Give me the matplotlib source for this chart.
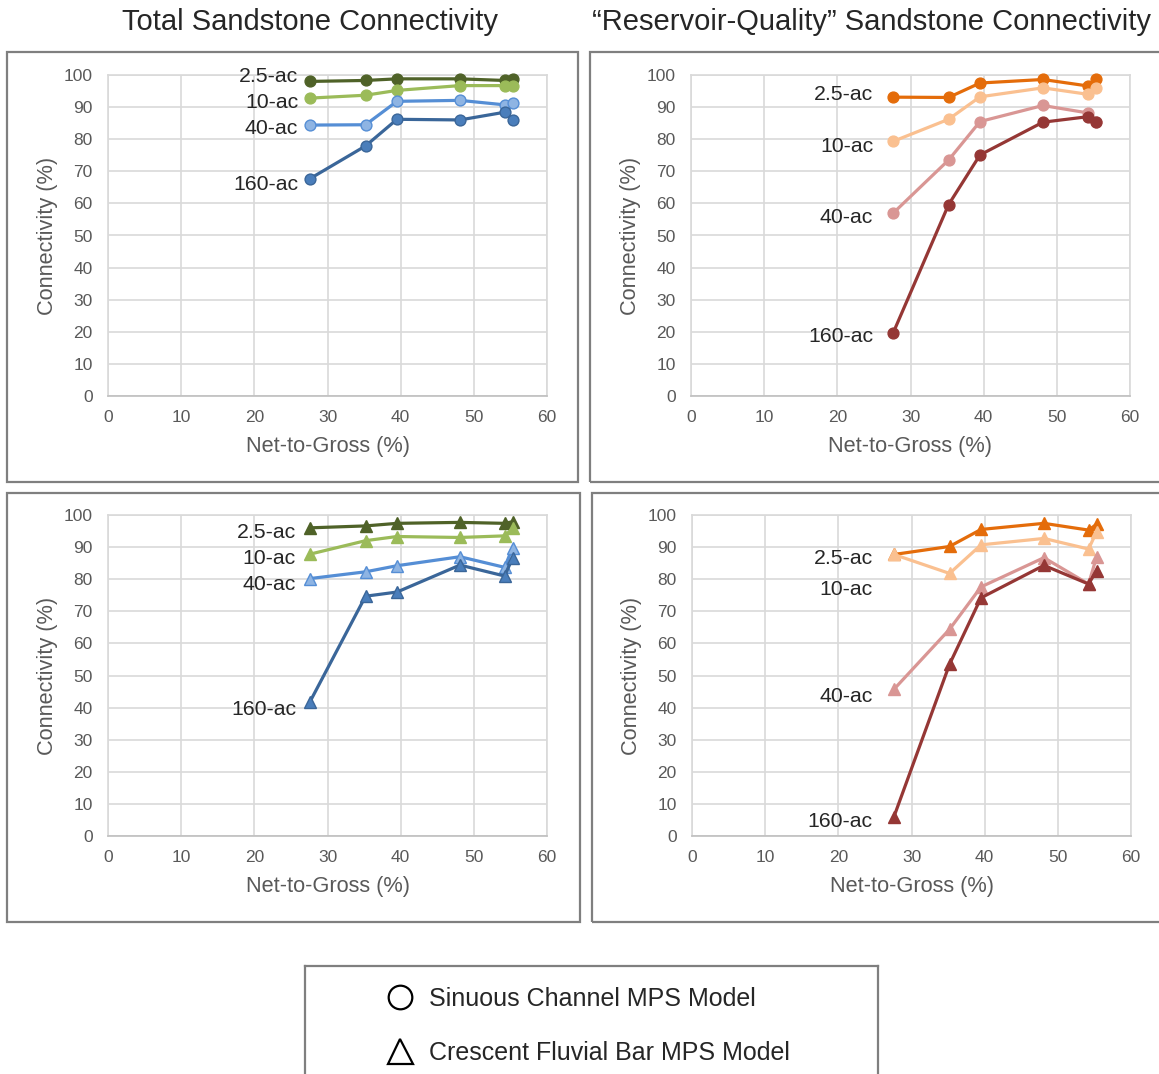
import matplotlib.pyplot as plt
from matplotlib.lines import Line2D
from matplotlib.patches import Rectangle

plt.rcParams["font.family"] = ["Liberation Sans", "DejaVu Sans"]

# ── Data ──────────────────────────────────────────────────────────────────────
ntg = [27.6, 35.2, 39.5, 48.1, 54.2, 55.3]          # Net-to-Gross (%)
spacings = ["2.5-ac", "10-ac", "40-ac", "160-ac"]

# Total sandstone connectivity, sinuous channel model
tot_ch_2p5 = [98.0, 98.3, 98.8, 98.8, 98.3, 98.8]
tot_ch_10  = [92.8, 93.7, 95.2, 96.7, 96.7, 96.6]
tot_ch_40  = [84.4, 84.5, 91.8, 92.1, 90.7, 91.2]
tot_ch_160 = [67.7, 77.9, 86.2, 86.0, 88.4, 86.1]

# Reservoir-quality connectivity, sinuous channel model
rq_ch_2p5 = [93.1, 93.0, 97.5, 98.6, 96.6, 98.6]
rq_ch_10  = [79.3, 86.2, 93.2, 96.0, 94.0, 96.0]
rq_ch_40  = [56.9, 73.5, 85.5, 90.5, 88.2, 85.3]
rq_ch_160 = [19.5, 59.6, 75.1, 85.3, 87.0, 85.5]

# Total sandstone connectivity, crescent fluvial bar model
tot_bar_2p5 = [96.0, 96.6, 97.4, 97.7, 97.4, 97.9]
tot_bar_10  = [87.8, 92.0, 93.3, 93.0, 93.5, 95.8]
tot_bar_40  = [80.2, 82.3, 84.2, 87.0, 83.7, 89.8]
tot_bar_160 = [41.8, 74.7, 76.0, 84.4, 81.0, 86.6]

# Reservoir-quality connectivity, crescent fluvial bar model
rq_bar_2p5 = [87.7, 90.2, 95.5, 97.4, 95.3, 97.1]
rq_bar_10  = [87.7, 81.8, 90.7, 92.7, 89.4, 94.8]
rq_bar_40  = [45.7, 64.4, 77.6, 86.7, 78.5, 87.0]
rq_bar_160 = [6.0, 53.5, 74.2, 84.3, 78.5, 82.7]

# ── Style ─────────────────────────────────────────────────────────────────────
W, H = 1159, 1074
green_blue = [("#4F6228", "#4F6228"), ("#9BBB59", "#9BBB59"),
              ("#558ED5", "#8EB4E3"), ("#3A6699", "#4A7EBB")]
oranges    = [("#E46C0A", "#E46C0A"), ("#FAC090", "#FAC090"),
              ("#D99694", "#D99694"), ("#953735", "#953735")]
GRID = "#D9D9D9"
TICK = "#595959"
BOX  = "#7F7F7F"


def fx(px):
    return px / W


def fy(py):
    return 1 - py / H


fig = plt.figure(figsize=(W / 100, H / 100), dpi=100)

# panel frames
for x0, y0, x1, y1 in [(7, 52, 578, 482), (590, 52, 1170, 482),
                       (7, 493, 580, 922), (592, 493, 1170, 922)]:
    fig.patches.append(Rectangle((fx(x0), fy(y1)), fx(x1 - x0), (y1 - y0) / H,
                                 transform=fig.transFigure, fill=False,
                                 edgecolor=BOX, linewidth=1.6))

panels = [
    # (left px, bottom px, series, colours, marker, label positions)
    (108, 396, [tot_ch_2p5, tot_ch_10, tot_ch_40, tot_ch_160], green_blue, "o",
     [(26.0, 99.4), (26.0, 91.3), (26.0, 83.2), (26.0, 66.0)]),
    (691, 396, [rq_ch_2p5, rq_ch_10, rq_ch_40, rq_ch_160], oranges, "o",
     [(24.9, 93.8), (24.9, 77.6), (24.9, 55.5), (24.9, 18.4)]),
    (108, 836, [tot_bar_2p5, tot_bar_10, tot_bar_40, tot_bar_160], green_blue, "^",
     [(25.7, 94.7), (25.7, 86.6), (25.7, 78.5), (25.7, 39.3)]),
    (692, 836, [rq_bar_2p5, rq_bar_10, rq_bar_40, rq_bar_160], oranges, "^",
     [(24.7, 86.6), (24.7, 76.9), (24.7, 43.6), (24.7, 4.4)]),
]

for left, bottom, series, cols, mk, lab_pos in panels:
    ax = fig.add_axes([fx(left), fy(bottom), 439 / W, 321 / H])
    for vals, (lc, fc), name, (lx, ly) in zip(series, cols, spacings, lab_pos):
        ax.plot(ntg, vals, color=lc, linewidth=2.3, marker=mk,
                markersize=7.8 if mk == "o" else 9,
                markerfacecolor=fc, markeredgecolor=lc, markeredgewidth=1.0,
                clip_on=False, zorder=3)
        ax.text(lx, ly, name, ha="right", va="center", fontsize=15.3,
                color="#262626", zorder=4)
    ax.set_xlim(0, 60)
    ax.set_ylim(0, 100)
    ax.set_xticks(range(0, 61, 10))
    ax.set_yticks(range(0, 101, 10))
    ax.grid(True, color=GRID, linewidth=1.2)
    ax.set_axisbelow(True)
    for sp in ax.spines.values():
        sp.set_color(GRID)
        sp.set_linewidth(1.2)
    ax.spines["bottom"].set_color("#BFBFBF")
    ax.tick_params(length=0, labelsize=12.5, labelcolor=TICK)
    ax.tick_params(axis="y", pad=11)
    ax.tick_params(axis="x", pad=10)
    ax.set_xlabel("Net-to-Gross (%)", fontsize=15.7, color=TICK)
    ax.set_ylabel("Connectivity (%)", fontsize=15.7, color=TICK)
    ax.xaxis.set_label_coords(0.5, -0.126)
    ax.yaxis.set_label_coords(-0.113, 0.5)

fig.text(fx(310), fy(22), "Total Sandstone Connectivity", ha="center",
         va="center", fontsize=21, color="#262626")
fig.text(fx(872), fy(22), "\u201cReservoir-Quality\u201d Sandstone Connectivity",
         ha="center", va="center", fontsize=21, color="#262626")

# ── Legend ────────────────────────────────────────────────────────────────────
lax = fig.add_axes([fx(305), fy(1110), fx(878 - 305), (1110 - 966) / H])
lax.set_xticks([])
lax.set_yticks([])
for sp in lax.spines.values():
    sp.set_color(BOX)
    sp.set_linewidth(1.6)
handles = [
    Line2D([], [], linestyle="none", marker="o", markersize=17,
           markerfacecolor="white", markeredgecolor="black", markeredgewidth=1.6),
    Line2D([], [], linestyle="none", marker="^", markersize=18,
           markerfacecolor="white", markeredgecolor="black", markeredgewidth=1.6),
]
lax.legend(handles, ["Sinuous Channel MPS Model", "Crescent Fluvial Bar MPS Model"],
           loc="upper left", bbox_to_anchor=(0.096, 1.01), frameon=False,
           fontsize=18, labelspacing=1.2, handletextpad=0.45, handlelength=1.4,
           labelcolor="#262626")

fig.savefig("out.png", dpi=100)
